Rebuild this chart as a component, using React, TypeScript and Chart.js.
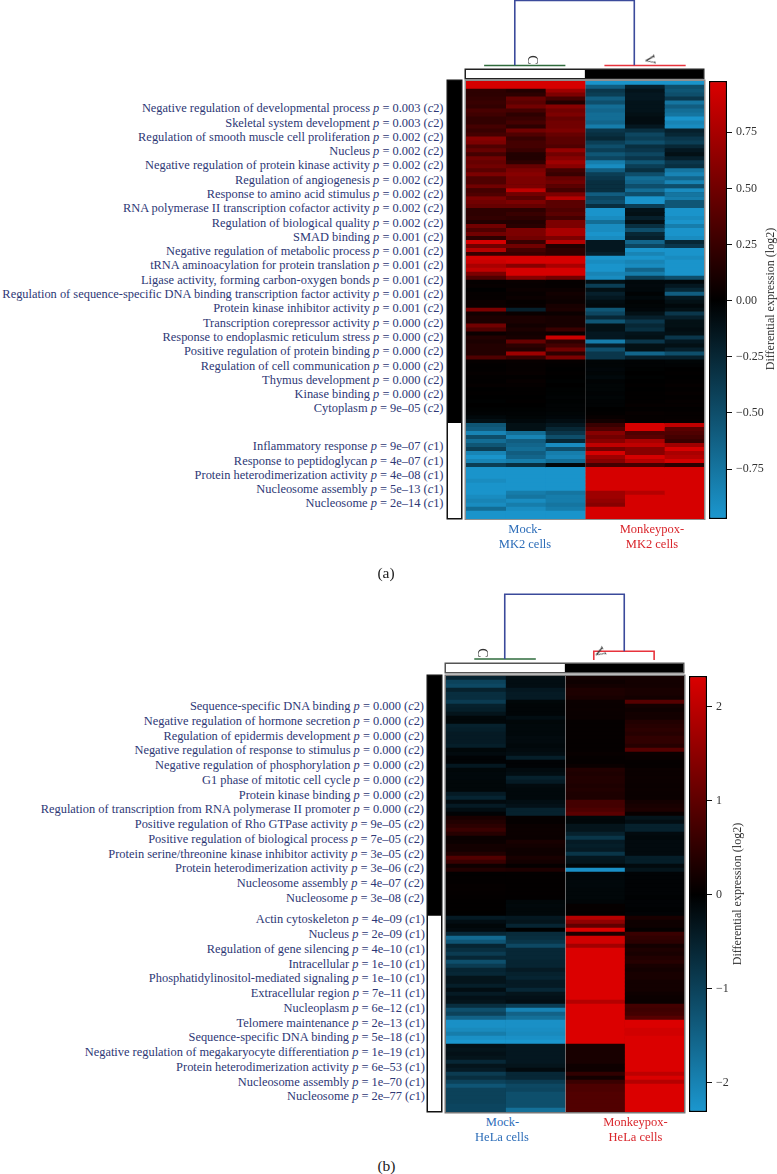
import React, { useEffect, useRef } from "react";
import { Chart, registerables } from "chart.js";
Chart.register(...registerables);

// ---------- panel (a) data ----------
const termsA2 = ["Negative regulation of developmental process","Skeletal system development","Regulation of smooth muscle cell proliferation","Nucleus","Negative regulation of protein kinase activity","Regulation of angiogenesis","Response to amino acid stimulus","RNA polymerase II transcription cofactor activity","Regulation of biological quality","SMAD binding","Negative regulation of metabolic process","tRNA aminoacylation for protein translation","Ligase activity, forming carbon-oxygen bonds","Regulation of sequence-specific DNA binding transcription factor activity","Protein kinase inhibitor activity","Transcription corepressor activity","Response to endoplasmic reticulum stress","Positive regulation of protein binding","Regulation of cell communication","Thymus development","Kinase binding","Cytoplasm"];
const pvalsA2 = ["0.003","0.003","0.002","0.002","0.002","0.002","0.002","0.002","0.002","0.001","0.001","0.001","0.001","0.001","0.001","0.000","0.000","0.000","0.000","0.000","0.000","9e–05"];
const termsA1 = ["Inflammatory response","Response to peptidoglycan","Protein heterodimerization activity","Nucleosome assembly","Nucleosome"];
const pvalsA1 = ["9e–07","4e–07","4e–08","5e–13","2e–14"];

const colA1 = [.95,.95,.2,.2,.22,.25,.22,.32,.28,.22,
.22,.3,.25,.3,.6,.55,.35,.45,.3,.5,
.45,.5,.4,.55,.35,.35,.5,.3,.35,.55,
.5,.45,.2,.2,.22,.15,.5,.35,.5,.2,
.95,.5,.8,.25,.95,.9,.75,.85,.55,.35,
.02,.03,0,.02,.02,.05,.05,.55,.08,.12,
.12,.5,.35,.05,.15,.12,.15,.15,.15,.35,
.02,.01,.01,.02,.01,.01,.02,0,.01,0,
-.01,0,-.01,-.02,-.05,-.1,-.55,-.6,-.85,-.5,
-.7,-.55,-.4,-.85,-.95,-.85,-.4,-.95,-.95,-.95,
-.9,-.95,-.95,-.95,-.9,-.85,-.9,-.7,-.95,-.95];
const colA2 = [.95,.95,.15,.2,.45,.4,.5,.3,.2,.25,
.3,.2,.5,.35,.25,.3,.3,.25,.15,.15,
.2,.45,.55,.6,.55,.55,.55,.85,.5,.4,
.55,.45,.2,.25,.2,.15,.18,.55,.55,.5,
.25,.5,.3,.25,.95,.95,.6,.95,.95,.6,
.04,.03,.05,.03,.05,.02,.03,-.2,.04,.12,
.12,.08,.12,.08,.1,.45,.2,.15,.7,.25,
.03,.02,.02,.03,.01,.03,.02,.01,.01,0,
.01,0,-.01,-.02,-.03,-.05,-.1,-.1,-.7,-.85,
-.6,-.65,-.7,-.6,-.65,-.8,-.3,-.95,-.95,-.95,
-.95,-.95,-.95,-.8,-.75,-.9,-.8,-.9,-.95,-.95];
const colA3 = [.95,.95,.7,.55,.3,.15,.6,.5,.55,.45,
.5,.5,.55,.45,.4,.4,.35,.65,.5,.6,
.7,.6,.3,.25,.45,.5,.4,.3,.55,.8,
.4,.4,.35,.4,.3,.55,.55,.75,.75,.55,
.8,.15,.2,.2,.95,.95,.75,.95,.95,.5,
.02,.02,.05,.08,.06,.05,.1,.12,.05,.1,
.1,.1,.25,.05,.9,.2,.3,.5,.2,.55,
.02,.01,0,.01,0,-.01,0,-.01,-.01,-.02,
-.01,-.02,-.02,-.03,-.04,-.08,-.15,-.25,-.35,-.5,
-.25,-.9,-.5,-.8,-.85,-.7,-.05,-.95,-.95,-.95,
-.95,-.95,-.95,-.75,-.8,-.8,-.75,-.8,-.95,-.95];
const colA4 = [-.95,-.6,-.35,-.4,-.6,-.5,-.7,-.65,-.7,-.7,
-.65,-.8,-.35,-.3,-.25,-.4,-.5,-.4,-.55,-.45,
-.8,-.9,-.6,-.4,-.35,-.3,-.3,-.3,-.6,-.45,
-.5,-.3,-.95,-.95,-.9,-.7,-.9,-.9,-.95,-.9,
-.15,-.15,-.15,-.2,-.95,-.9,-.95,-.95,-.85,-.9,
-.1,-.4,-.1,-.2,-.15,-.08,-.06,-.55,-.45,-.25,
-.55,-.1,-.1,-.15,-.15,-.8,-.2,-.5,-.35,-.35,
-.03,-.03,-.04,-.03,-.05,-.02,-.03,-.03,-.02,-.03,
-.02,-.02,0,.01,.03,.08,.25,.35,.6,.5,
.6,.85,.5,.95,.7,.6,.3,.95,.95,.95,
.95,.95,.95,.7,.7,.65,.6,.95,.95,.95];
const colA5 = [-.95,-.2,-.12,-.15,-.15,-.12,-.12,-.12,-.1,-.08,
-.08,-.15,-.3,-.45,-.4,-.5,-.3,-.35,-.45,-.35,
-.55,-.4,-.3,-.5,-.7,-.65,-.5,-.7,-.5,-.95,
-.95,-.4,-.12,-.1,-.2,-.1,-.3,-.5,-.25,-.2,
-.65,-.45,-.95,-.85,-.95,-.85,-.9,-.65,-.8,-.4,
-.05,-.06,-.05,-.02,-.05,-.02,-.03,-.04,-.1,-.2,
-.35,-.25,-.3,-.12,-.1,-.35,-.1,-.1,-.65,-.2,
-.02,-.02,-.01,0,-.01,0,.01,0,.01,.01,
.01,.02,.01,.03,.02,.02,.95,.95,.35,.4,
.75,.85,.6,.6,.95,.8,.3,.95,.95,.95,
.95,.95,.95,.8,.95,.95,.95,.95,.95,.95];
const colA6 = [-.95,-.5,-.55,-.5,-.35,-.75,-.6,-.7,-.75,-.95,
-.85,-.9,-.2,-.25,-.35,-.4,-.25,-.15,-.1,-.2,
-.35,-.3,-.75,-.85,-.65,-.85,-.5,-.9,-.75,-.8,
-.55,-.55,-.95,-.95,-.9,-.95,-.8,-.95,-.95,-.9,
-.25,-.35,-.95,-.95,-.9,-.95,-.95,-.95,-.95,-.5,
-.05,-.15,-.25,-.6,-.15,-.1,-.05,-.1,-.35,-.2,
-.1,-.1,-.08,-.1,-.35,-.15,-.1,-.2,-.5,-.2,
-.03,-.02,0,.01,0,.01,.02,.01,.02,.01,
.02,.02,.01,.02,.02,.03,.85,.4,.35,.3,
.25,.7,.95,.75,.8,.95,.2,.95,.95,.95,
.95,.95,.95,.95,.95,.95,.95,.95,.95,.95];
const ticksA = [-.75,-.5,-.25,0,.25,.5,.75];
const sideCountsA = [86, 24];
const sampleCountsA = [3, 3];

// ---------- panel (b) data ----------
const termsB2 = ["Sequence-specific DNA binding","Negative regulation of hormone secretion","Regulation of epidermis development","Negative regulation of response to stimulus","Negative regulation of phosphorylation","G1 phase of mitotic cell cycle","Protein kinase binding","Regulation of transcription from RNA polymerase II promoter","Positive regulation of Rho GTPase activity","Positive regulation of biological process","Protein serine/threonine kinase inhibitor activity","Protein heterodimerization activity","Nucleosome assembly","Nucleosome"];
const pvalsB2 = ["0.000","0.000","0.000","0.000","0.000","0.000","0.000","0.000","9e–05","7e–05","3e–05","3e–06","4e–07","3e–08"];
const termsB1 = ["Actin cytoskeleton","Nucleus","Regulation of gene silencing","Intracellular","Phosphatidylinositol-mediated signaling","Extracellular region","Nucleoplasm","Telomere maintenance","Sequence-specific DNA binding","Negative regulation of megakaryocyte differentiation","Protein heterodimerization activity","Nucleosome assembly","Nucleosome"];
const pvalsB1 = ["4e–09","2e–09","4e–10","1e–10","1e–10","7e–11","6e–12","2e–13","5e–18","1e–19","6e–53","1e–70","2e–77"];

const colB1 = [-.55,-1,-1.1,-.5,-.7,-.7,-.9,-.5,-.45,-.3,
-.1,-.1,-.5,-.45,-.4,-.4,-.4,-.45,-.1,-.15,
-.05,-.05,-.35,-.1,-.12,-.12,-.1,-.1,-.1,-.4,
-.55,-.15,-.4,-.2,-.05,.25,.35,.45,.6,.4,
.1,.12,.2,.2,.35,.85,.6,.15,.35,.02,
.03,.03,.05,.05,.04,.03,.02,.02,.02,.01,
-.4,-.2,-.1,-.15,-.6,-1.6,-1.3,-.55,-.7,-.9,
-.6,-1.2,-.9,-.55,-.6,-.3,-.3,-.45,-.2,-.4,
-.25,-.3,-.7,-1.2,-1,-1.5,-2.2,-2.2,-2.1,-1.9,
-2.2,-2.3,-.25,-.3,-.25,-.3,-.6,-.3,-.4,-.9,
-.7,-1,-1.3,-1,-1,-1,-1,-1.05,-1.05];
const colB2 = [-.2,-.2,-.2,-.35,-.4,-.4,-.1,-.08,-.08,-.08,
-.2,-.1,-.12,-.12,-.12,-.15,-.15,-.12,-.15,-.2,
-.45,-.05,-.05,-.15,-.2,-.5,-.4,-.15,-.12,-.12,
-.12,-.2,-.25,-.5,-.5,.05,.05,.1,.12,.12,
.1,.25,.2,.15,.15,.25,.2,.05,.3,.03,
.03,.03,.03,.03,.03,.02,-.1,-.12,-.1,-.1,
-.35,-.3,-.55,0,-.65,-.7,-.8,-1.1,-.6,-.6,
-.6,-.55,-.55,-.4,-.5,-.55,-.4,-.4,-.6,-.3,
-.25,-.2,-.9,-2,-1.5,-1.7,-2.2,-2.2,-2.15,-2.1,
-2.2,-2.3,-.35,-.35,-.35,-.35,-.35,-.3,-.15,-.6,
-.6,-.9,-1.1,-1.05,-1.2,-1.2,-1.2,-1.2,-1.7];
const colB3 = [.2,.15,.2,.3,.3,.25,.12,.1,.12,.1,
.1,.05,.05,.05,.05,.05,.05,.05,.05,.08,
.05,.05,.1,.35,.3,.35,.35,.3,.35,.3,
.3,.7,.7,.8,.95,-.1,-.1,-.3,-.3,-.5,
-.8,-.4,-.45,-.4,-.8,-.35,-.3,-.1,-2.2,-.1,
-.1,-.12,-.12,-.1,-.1,-.1,-.08,.05,.05,.03,
1.9,1.5,1,2.3,.3,2.2,2.2,1.7,2.3,2.3,
2.3,2.3,2.3,2.3,2.3,2.3,2.3,2.3,2.3,2.3,
2.3,1.9,2.3,2.3,2.3,2.3,2.3,2.3,2.3,2.3,
2.3,2.3,.25,.25,.25,.25,.25,.15,.15,.5,
.2,.6,.8,.8,.85,.85,.85,.85,.85];
const colB4 = [.2,.2,.2,.25,.25,.2,.9,.2,.15,.2,
.2,.35,.4,.45,.4,.5,.5,.4,.9,.1,
.08,.05,.05,.1,.1,.12,.12,.1,.12,.1,
.1,.2,.25,.3,.08,-.3,-.2,-.5,-.5,-.15,
-.12,-.15,-.15,-.15,-.15,-.45,-.45,-.15,-.3,-.05,
-.05,-.05,-.05,-.05,-.05,-.03,-.05,-.05,-.03,-.05,
.25,.15,.15,.05,.6,.5,.45,.2,.3,.25,
.35,.4,.25,.2,.25,.25,.2,.2,.2,.15,
.12,.1,.7,.65,.7,.9,2.3,2.3,2.2,2.2,
2.3,2.3,2.3,2.3,2.3,2.3,2.3,2.3,2.3,2,
2.3,1.9,2.3,2.3,2.3,2.3,2.3,2.3,2.3];
const ticksB = [-2,-1,0,1,2];
const sideCountsB = [60, 49];
const sampleCountsB = [2, 2];

// ---------- dendrograms: x in sample columns, y in merge height ----------
const dendroATop = [{x:1.25,y:4.7},{x:1.25,y:69.5},{x:4.25,y:69.5},{x:4.25,y:4.7}];
const dendroAMock = [{x:.48,y:4.5},{x:2.52,y:4.5}];
const dendroAMonkey = [{x:3.5,y:4.5},{x:5.54,y:4.5}];
const dendroBTop = [{x:1,y:3},{x:1,y:67.7},{x:3,y:67.7},{x:3,y:10.7}];
const dendroBMock = [{x:.49,y:3},{x:1.52,y:3}];
const dendroBMonkey = [{x:2.49,y:2},{x:2.49,y:10.7},{x:3.5,y:10.7},{x:3.5,y:2}];

const SERIF = '"Liberation Serif", serif';
const NAVY = "#2d3775";
const RED = "rgb(219,0,0)";
const BLUE = "rgb(27,151,207)";

function heatColor(v: number, max: number) {
  const t = Math.min(1, Math.abs(v) / max);
  return v >= 0
    ? `rgb(${Math.round(219 * t)},0,0)`
    : `rgb(${Math.round(27 * t)},${Math.round(151 * t)},${Math.round(207 * t)})`;
}

const baseOptions = {
  responsive: false,
  maintainAspectRatio: false,
  animation: false,
  events: [],
  layout: { padding: 0 },
  plugins: { legend: { display: false }, tooltip: { enabled: false } },
};

function heatConfig(cols: number[][], max: number, split: number, lineColor: string) {
  const labels = cols[0].map((_, i) => `row ${i + 1}`);
  return {
    type: "bar",
    data: {
      labels,
      datasets: cols.map((col, k) => ({
        label: `sample ${k + 1}`,
        data: col.map(() => 1),
        backgroundColor: col.map((v) => heatColor(v, max)),
        borderWidth: 0,
        barPercentage: 1,
        categoryPercentage: 1,
      })),
    },
    options: {
      ...baseOptions,
      indexAxis: "y",
      scales: {
        x: {
          type: "linear", stacked: true, min: 0, max: cols.length,
          afterBuildTicks: (s: any) => { s.ticks = [{ value: split }]; },
          afterFit: (s: any) => { s.height = 0; },
          ticks: { display: false },
          border: { display: false },
          grid: { z: 1, color: lineColor, lineWidth: 1, drawTicks: false },
        },
        y: { type: "category", stacked: true, display: false },
      },
    },
  };
}

function colorbarConfig(min: number, max: number, ticks: number[], fmt: (v: number) => string, axisW: number) {
  return {
    type: "bar",
    data: {
      labels: ["scale"],
      datasets: [{
        data: [[min, max]],
        backgroundColor: (ctx: any) => {
          const area = ctx.chart.chartArea;
          if (!area) return "#000";
          const g = ctx.chart.ctx.createLinearGradient(0, area.bottom, 0, area.top);
          g.addColorStop(0, BLUE);
          g.addColorStop(-min / (max - min), "#000");
          g.addColorStop(1, RED);
          return g;
        },
        borderColor: "#000",
        borderWidth: 1.5,
        borderSkipped: false,
        barPercentage: 1,
        categoryPercentage: 1,
      }],
    },
    options: {
      ...baseOptions,
      layout: { padding: { left: 1, top: 1, bottom: 1 } },
      scales: {
        x: { display: false },
        y: {
          position: "right", min, max,
          afterBuildTicks: (s: any) => { s.ticks = ticks.map((value) => ({ value })); },
          afterFit: (s: any) => { s.width = axisW; s.paddingTop = 0; s.paddingBottom = 0; },
          border: { display: false },
          grid: { drawOnChartArea: false, color: "#111", tickLength: 5, tickWidth: 1 },
          ticks: {
            color: "#333", padding: 4, font: { family: SERIF, size: 12 },
            callback: (v: number) => fmt(v),
          },
        },
      },
    },
  };
}

function sideConfig(counts: number[]) {
  return {
    type: "bar",
    data: {
      labels: ["cluster"],
      datasets: counts.map((c, i) => ({
        label: i === 0 ? "c2" : "c1",
        data: [c],
        backgroundColor: i === 0 ? "#000" : "#fff",
        borderWidth: 0, barPercentage: 1, categoryPercentage: 1,
      })),
    },
    options: {
      ...baseOptions,
      scales: {
        x: { stacked: true, display: false },
        y: { stacked: true, display: false, reverse: true, min: 0, max: counts[0] + counts[1] },
      },
    },
  };
}

function sampleConfig(counts: number[]) {
  return {
    type: "bar",
    data: {
      labels: ["group"],
      datasets: counts.map((c, i) => ({
        label: i === 0 ? "C" : "V",
        data: [c],
        backgroundColor: i === 0 ? "#fff" : "#000",
        borderWidth: 0, barPercentage: 1, categoryPercentage: 1,
      })),
    },
    options: {
      ...baseOptions,
      indexAxis: "y",
      scales: {
        x: { stacked: true, display: false, min: 0, max: counts[0] + counts[1] },
        y: { stacked: true, display: false },
      },
    },
  };
}

function dendroConfig(parts: { pts: { x: number; y: number }[]; color: string }[], xMax: number, yMax: number) {
  return {
    type: "scatter",
    data: {
      datasets: parts.map((p) => ({
        data: p.pts, showLine: true, borderColor: p.color, borderWidth: 1.6,
        pointRadius: 0, tension: 0, clip: false,
      })),
    },
    options: {
      ...baseOptions,
      scales: {
        x: { type: "linear", display: false, min: 0, max: xMax },
        y: { type: "linear", display: false, min: 0, max: yMax },
      },
    },
  };
}

const DBLUE = "#3b4a9b";
const DGREEN = "#2f6b3c";
const DRED = "#e8333c";
const fmtA = (v: number) => (v < 0 ? "−" : "") + Math.abs(v).toFixed(2);
const fmtB = (v: number) => (v < 0 ? "−" : "") + Math.abs(v).toFixed(0);

const HEAT_EDGE = "0 0 0 1.5px #8f8f8f";
const BLACK_EDGE = "0 0 0 1.5px #111";

const specs: { x: number; y: number; w: number; h: number; shadow?: string; bg?: string; make: () => any }[] = [
  // panel a
  { x: 465, y: 0, w: 239, h: 70, make: () => dendroConfig([{ pts: dendroATop, color: DBLUE }, { pts: dendroAMock, color: DGREEN }, { pts: dendroAMonkey, color: DRED }], 6, 70) },
  { x: 466, y: 70, w: 237, h: 8, shadow: "0 0 0 1.5px #222", make: () => sampleConfig(sampleCountsA) },
  { x: 448, y: 81, w: 12.5, h: 437, shadow: BLACK_EDGE, make: () => sideConfig(sideCountsA) },
  { x: 465.5, y: 80.5, w: 238, h: 438, shadow: HEAT_EDGE, bg: "#000", make: () => heatConfig([colA1, colA2, colA3, colA4, colA5, colA6], 0.97, 3, "rgba(140,140,140,0.3)") },
  { x: 708, y: 80, w: 64, h: 440, make: () => colorbarConfig(-0.972, 0.978, ticksA, fmtA, 45) },
  // panel b
  { x: 445, y: 590, w: 239, h: 72, make: () => dendroConfig([{ pts: dendroBTop, color: DBLUE }, { pts: dendroBMock, color: DGREEN }, { pts: dendroBMonkey, color: DRED }], 4, 72) },
  { x: 446, y: 664, w: 237, h: 8, shadow: "0 0 0 1.5px #555", make: () => sampleConfig(sampleCountsB) },
  { x: 428, y: 676, w: 12.5, h: 435, shadow: BLACK_EDGE, make: () => sideConfig(sideCountsB) },
  { x: 445.5, y: 675.5, w: 238, h: 436, shadow: "0 0 0 1.5px #777", bg: "#000", make: () => heatConfig([colB1, colB2, colB3, colB4], 2.3, 2, "rgba(190,190,190,0.55)") },
  { x: 688, y: 675, w: 50, h: 438, make: () => colorbarConfig(-2.31, 2.326, ticksB, fmtB, 31) },
];

function Label({ term, p, c, right, y }: { term: string; p: string; c: string; right: number; y: number }) {
  return (
    <div style={{ position: "absolute", right: 777 - right, top: y - 8, height: 16, lineHeight: "16px", whiteSpace: "nowrap", fontSize: 12.42, color: NAVY, fontFamily: SERIF }}>
      {term} <i>p</i> = {p} (<i>c</i>{c})
    </div>
  );
}

function Plain({ text, cx, cy, color, size = 12.5, rotate = 0 }: { text: string; cx: number; cy: number; color: string; size?: number; rotate?: number }) {
  return (
    <div style={{ position: "absolute", left: cx - 100, top: cy - 10, width: 200, height: 20, lineHeight: "20px", textAlign: "center", whiteSpace: "nowrap", fontSize: size, color, fontFamily: SERIF, transform: rotate ? `rotate(${rotate}deg)` : undefined }}>
      {text}
    </div>
  );
}

export default function App() {
  const refs = useRef<(HTMLCanvasElement | null)[]>([]);
  useEffect(() => {
    const charts = specs.map((s, i) => new Chart(refs.current[i] as HTMLCanvasElement, s.make()));
    return () => charts.forEach((c) => c.destroy());
  }, []);

  const labelBlue = "#2b6cb8";
  const labelRed = "#d9252b";
  return (
    <div style={{ position: "absolute", left: 0, top: 0, width: 777, height: 1174, overflow: "hidden", background: "#fff" }}>
      {specs.map((s, i) => (
        <canvas
          key={i}
          ref={(el) => { refs.current[i] = el; }}
          width={s.w}
          height={s.h}
          style={{ position: "absolute", left: s.x, top: s.y, width: s.w, height: s.h, boxShadow: s.shadow, background: s.bg }}
        />
      ))}

      {termsA2.map((t, i) => <Label key={"a2" + i} term={t} p={pvalsA2[i]} c="2" right={443.5} y={108.3 + i * 14.29} />)}
      {termsA1.map((t, i) => <Label key={"a1" + i} term={t} p={pvalsA1[i]} c="1" right={443.5} y={446.3 + i * 14.25} />)}
      {termsB2.map((t, i) => <Label key={"b2" + i} term={t} p={pvalsB2[i]} c="2" right={424} y={706 + i * 14.77} />)}
      {termsB1.map((t, i) => <Label key={"b1" + i} term={t} p={pvalsB1[i]} c="1" right={425} y={919.3 + i * 14.75} />)}

      <Plain text="C" cx={532} cy={59.5} color="#333" size={14} rotate={90} />
      <Plain text="V" cx={649} cy={59.5} color="#333" size={14} rotate={80} />
      <Plain text="C" cx={482} cy={653} color="#333" size={14} rotate={90} />
      <Plain text="V" cx={599} cy={653} color="#333" size={14} rotate={60} />

      <Plain text="Mock-" cx={525} cy={529} color={labelBlue} />
      <Plain text="MK2 cells" cx={525} cy={544} color={labelBlue} />
      <Plain text="Monkeypox-" cx={652} cy={529} color={labelRed} />
      <Plain text="MK2 cells" cx={652} cy={544} color={labelRed} />
      <Plain text="Mock-" cx={502.5} cy={1122} color={labelBlue} />
      <Plain text="HeLa cells" cx={502} cy={1137} color={labelBlue} />
      <Plain text="Monkeypox-" cx={635.5} cy={1122} color={labelRed} />
      <Plain text="HeLa cells" cx={635.5} cy={1137} color={labelRed} />

      <Plain text="Differential expression (log2)" cx={770} cy={299} color="#333" size={12} rotate={-90} />
      <Plain text="Differential expression (log2)" cx={736.5} cy={894} color="#333" size={12} rotate={-90} />

      <Plain text="(a)" cx={386} cy={573} color="#222" size={15.5} />
      <Plain text="(b)" cx={386.5} cy={1165.5} color="#222" size={15.5} />
    </div>
  );
}
